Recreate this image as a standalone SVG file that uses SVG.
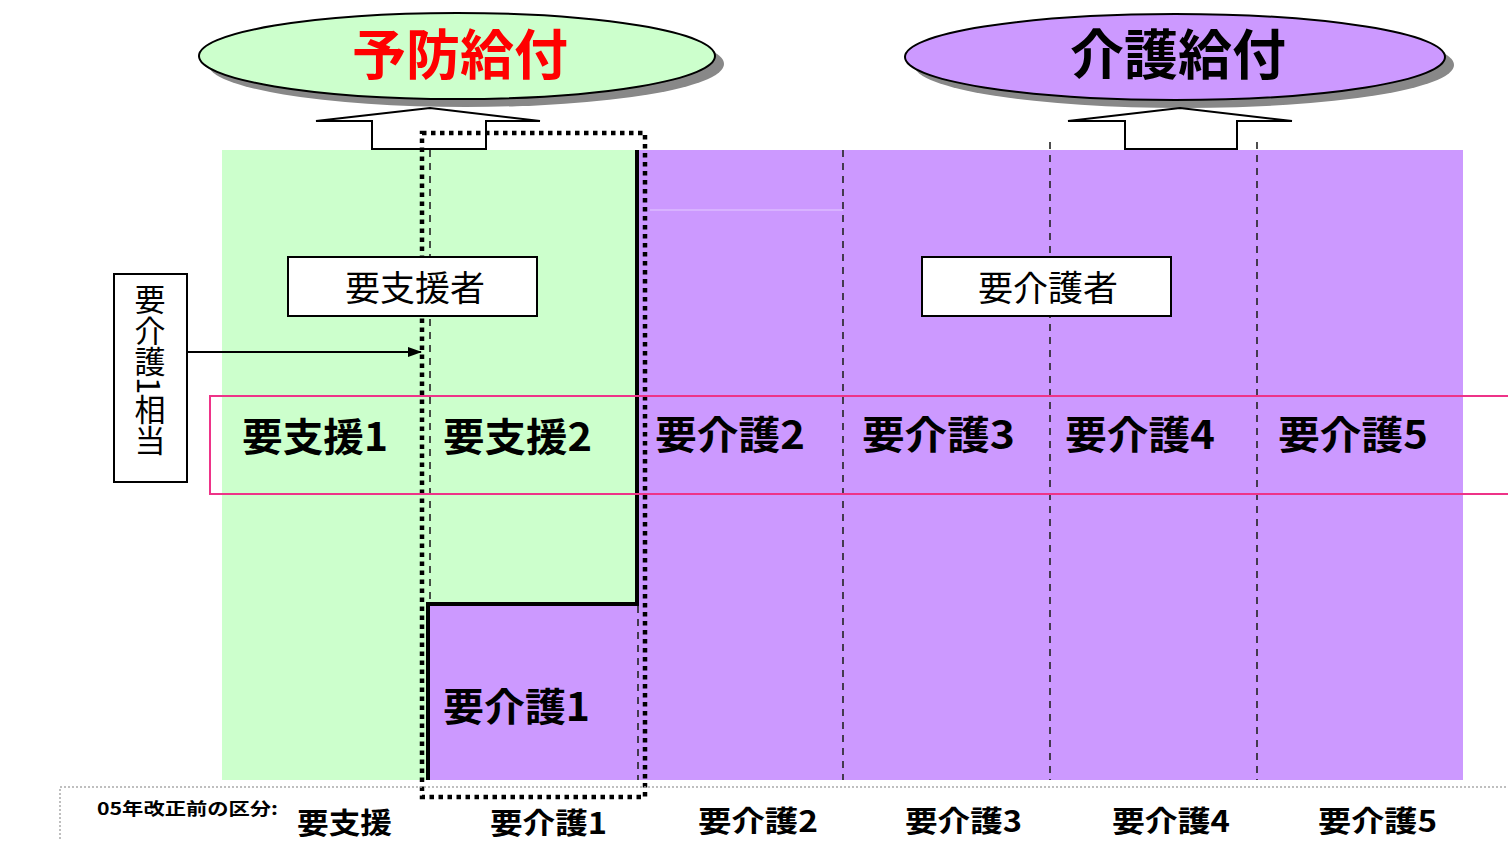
<svg xmlns="http://www.w3.org/2000/svg" width="1508" height="841" viewBox="0 0 1508 841">
<defs>
<style>
.jp{font-family:"Noto Sans CJK JP","Noto Sans CJK SC",sans-serif;}
.lbl{font-size:39px;font-weight:bold;fill:#000;}
.box{fill:#fff;stroke:#000;stroke-width:2;}
.dash{stroke:#222;stroke-width:1.6;stroke-dasharray:7 6;fill:none;}
.bot{font-size:29px;font-weight:bold;fill:#000;}
</style>
<marker id="ah" markerWidth="14" markerHeight="12" refX="13" refY="6" orient="auto" markerUnits="userSpaceOnUse">
<path d="M0,1 L14,6 L0,11 Z" fill="#000"/>
</marker>
</defs>
<rect width="1508" height="841" fill="#fff"/>

<g id="areas">
<rect x="222" y="150" width="416" height="630" fill="#ccffcc"/>
<rect x="638" y="150" width="825" height="630" fill="#cc99ff"/>
<rect x="428" y="604" width="210" height="176" fill="#cc99ff"/>
<line x1="650" y1="210" x2="843" y2="210" stroke="#ddbbff" stroke-width="1.5"/>
</g>

<g id="ellipse-yobou">
<ellipse cx="466" cy="64" rx="258" ry="43" fill="#888"/>
<ellipse cx="457" cy="56" rx="258" ry="43" fill="#ccffcc" stroke="#000" stroke-width="2"/>
<text class="jp" x="460" y="75" font-size="54" font-weight="bold" fill="#ff0000" text-anchor="middle">予防給付</text>
</g>
<g id="arrow-yobou">
<path d="M372,149 L372,121 L316,121 L430,108 L540,121 L486,121 L486,149 Z" fill="#fff" stroke="#000" stroke-width="2"/>
</g>

<g id="ellipse-kaigo">
<ellipse cx="1184" cy="65" rx="270" ry="43" fill="#888"/>
<ellipse cx="1175" cy="57" rx="270" ry="43" fill="#cc99ff" stroke="#000" stroke-width="2"/>
<text class="jp" x="1178" y="75" font-size="54" font-weight="bold" fill="#000" text-anchor="middle">介護給付</text>
</g>
<g id="arrow-kaigo">
<path d="M1125,149 L1125,121 L1068,121 L1180,108 L1292,121 L1237,121 L1237,149 Z" fill="#fff" stroke="#000" stroke-width="2"/>
</g>

<g id="connectors">
<path d="M637,150 L637,604 L428,604 L428,780" fill="none" stroke="#000" stroke-width="4"/>
<line class="dash" x1="430" y1="150" x2="430" y2="602"/>
<line class="dash" x1="843" y1="150" x2="843" y2="780"/>
<line class="dash" x1="1050" y1="142" x2="1050" y2="780"/>
<line class="dash" x1="1257" y1="142" x2="1257" y2="780"/>
<line class="dash" x1="638" y1="606" x2="638" y2="780"/>
<rect x="422" y="133" width="223" height="664" fill="none" stroke="#000" stroke-width="4.5" stroke-dasharray="4.5 4.5"/>
<line x1="188" y1="352" x2="421" y2="352" stroke="#000" stroke-width="2" marker-end="url(#ah)"/>
</g>

<g id="box-youshiensha">
<rect class="box" x="288" y="257" width="249" height="59"/>
<text class="jp" x="415" y="301" font-size="35" text-anchor="middle">要支援者</text>
</g>
<g id="box-youkaigosha">
<rect class="box" x="922" y="257" width="249" height="59"/>
<text class="jp" x="1048" y="301" font-size="35" text-anchor="middle">要介護者</text>
</g>

<g id="box-soutou">
<rect class="box" x="114" y="274" width="73" height="208"/>
<text class="jp" x="150" y="284" font-size="31" writing-mode="vertical-rl" style="text-orientation:mixed">要介護1相当</text>
</g>

<g id="band">
<rect x="210" y="396" width="1310" height="98" fill="none" stroke="#ee3388" stroke-width="2"/>
<text class="jp lbl" x="242" y="451" textLength="146" lengthAdjust="spacingAndGlyphs">要支援1</text>
<text class="jp lbl" x="443" y="451" textLength="149" lengthAdjust="spacingAndGlyphs">要支援2</text>
<text class="jp lbl" x="655" y="449" textLength="150" lengthAdjust="spacingAndGlyphs">要介護2</text>
<text class="jp lbl" x="862" y="449" textLength="153" lengthAdjust="spacingAndGlyphs">要介護3</text>
<text class="jp lbl" x="1065" y="449" textLength="150" lengthAdjust="spacingAndGlyphs">要介護4</text>
<text class="jp lbl" x="1278" y="449" textLength="150" lengthAdjust="spacingAndGlyphs">要介護5</text>
</g>

<g id="label-kaigo1">
<text class="jp lbl" x="443" y="721" textLength="147" lengthAdjust="spacingAndGlyphs">要介護1</text>
</g>

<g id="legacy-row">
<rect x="60" y="787" width="1460" height="60" fill="none" stroke="#aaa" stroke-width="1.5" stroke-dasharray="2 2"/>
<text class="jp" x="97" y="815" font-size="17" font-weight="bold" textLength="181" lengthAdjust="spacingAndGlyphs">05年改正前の区分:</text>
<text class="jp bot" x="297" y="834" textLength="95" lengthAdjust="spacingAndGlyphs">要支援</text>
<text class="jp bot" x="490" y="834" textLength="117" lengthAdjust="spacingAndGlyphs">要介護1</text>
<text class="jp bot" x="698" y="832" textLength="120" lengthAdjust="spacingAndGlyphs">要介護2</text>
<text class="jp bot" x="905" y="832" textLength="117" lengthAdjust="spacingAndGlyphs">要介護3</text>
<text class="jp bot" x="1112" y="832" textLength="118" lengthAdjust="spacingAndGlyphs">要介護4</text>
<text class="jp bot" x="1318" y="832" textLength="119" lengthAdjust="spacingAndGlyphs">要介護5</text>
</g>
</svg>
